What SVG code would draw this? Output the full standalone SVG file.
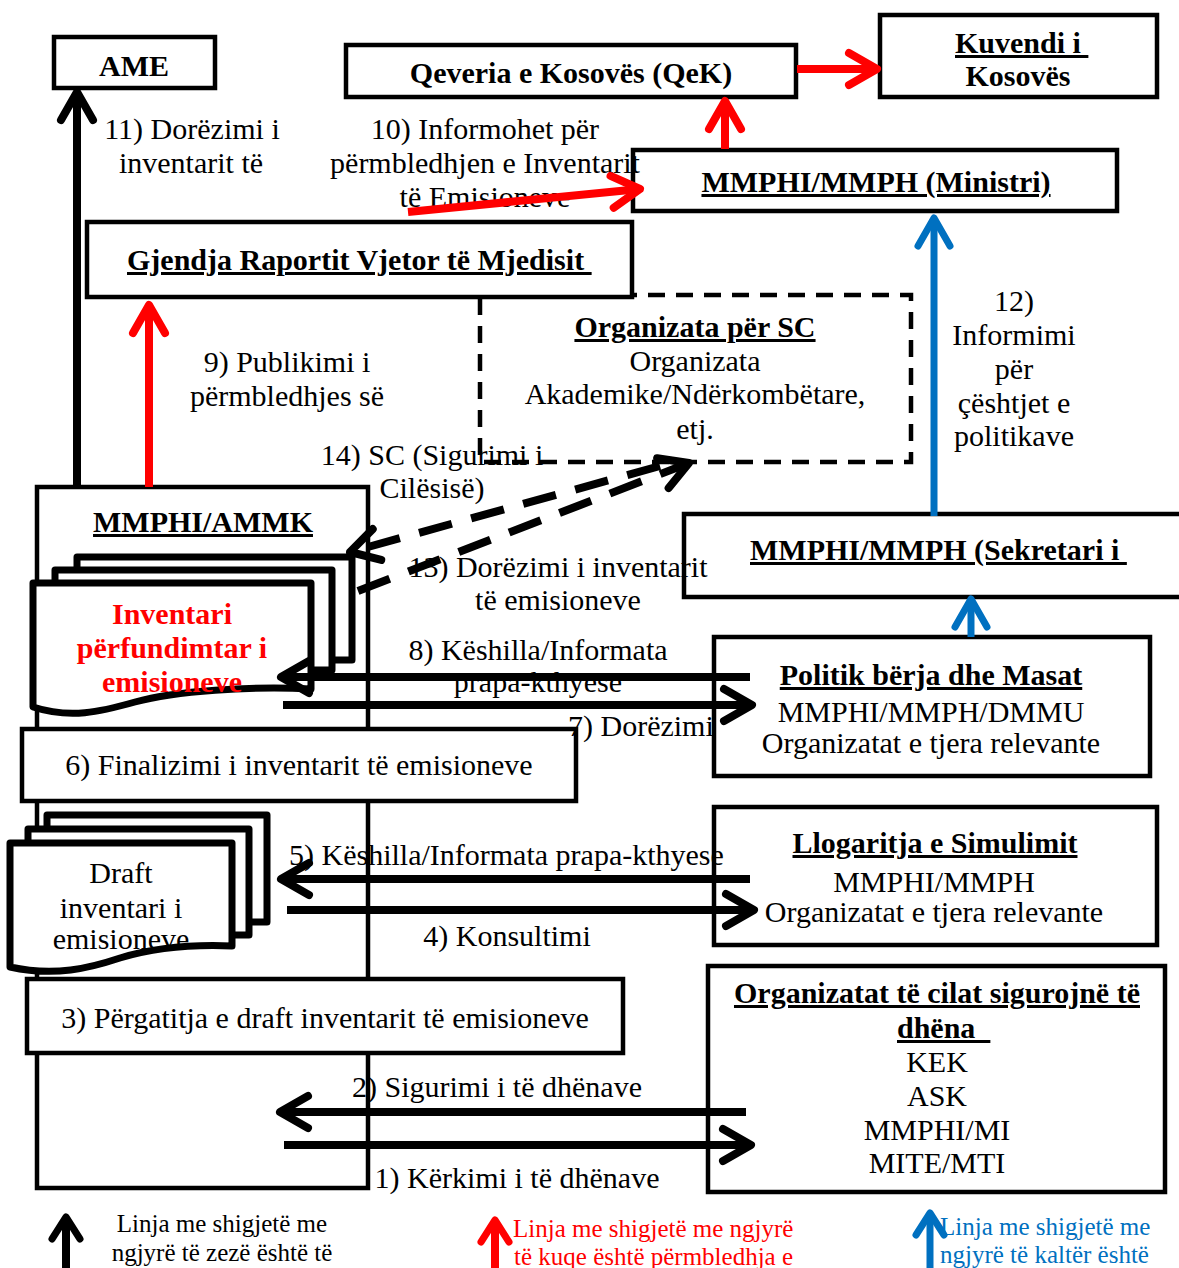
<svg xmlns="http://www.w3.org/2000/svg" width="1179" height="1268" viewBox="0 0 1179 1268">
  <defs>
    <style>
      .box { fill: #fff; stroke: #000; stroke-width: 4.5; }
      .sc { fill: none; stroke: #000; stroke-width: 4.5; stroke-dasharray: 17 11; }
      .doc { fill: #fff; stroke: #000; stroke-width: 7; stroke-linejoin: round; }
      .t { font-family: "Liberation Serif", "Times New Roman", serif; font-size: 30px; fill: #000; }
      .b { font-weight: bold; }
      .u { text-decoration: underline; }
      .c { text-anchor: middle; }
      .inv { fill: #ff0000; }
      .lg { font-size: 25px; }
      .lgr { fill: #ff0000; }
      .lgb { fill: #0070c0; }
      .k { fill: none; stroke: #000; stroke-width: 8; }
      .r { fill: none; stroke: #ff0000; stroke-width: 8; }
      .bl { fill: none; stroke: #0070c0; stroke-width: 7; }
      .dl { stroke-dasharray: 34 20; }
    </style>
    <marker id="hk" markerUnits="userSpaceOnUse" markerWidth="60" markerHeight="60" viewBox="-40 -30 60 60" refX="0" refY="0" orient="auto" overflow="visible">
      <path d="M-28,-16 L0,0 L-28,16" fill="none" stroke="#000" stroke-width="8" stroke-linecap="round" stroke-linejoin="round"/>
    </marker>
    <marker id="hr" markerUnits="userSpaceOnUse" markerWidth="60" markerHeight="60" viewBox="-40 -30 60 60" refX="0" refY="0" orient="auto" overflow="visible">
      <path d="M-28,-16 L0,0 L-28,16" fill="none" stroke="#ff0000" stroke-width="8" stroke-linecap="round" stroke-linejoin="round"/>
    </marker>
    <marker id="hb" markerUnits="userSpaceOnUse" markerWidth="60" markerHeight="60" viewBox="-40 -30 60 60" refX="0" refY="0" orient="auto" overflow="visible">
      <path d="M-28,-16 L0,0 L-28,16" fill="none" stroke="#0070c0" stroke-width="7" stroke-linecap="round" stroke-linejoin="round"/>
    </marker>
    <marker id="hks" markerUnits="userSpaceOnUse" markerWidth="40" markerHeight="40" viewBox="-30 -20 40 40" refX="0" refY="0" orient="auto" overflow="visible">
      <path d="M-22,-14 L0,0 L-22,14" fill="none" stroke="#000" stroke-width="7" stroke-linecap="round" stroke-linejoin="round"/>
    </marker>
    <marker id="hrs" markerUnits="userSpaceOnUse" markerWidth="40" markerHeight="40" viewBox="-30 -20 40 40" refX="0" refY="0" orient="auto" overflow="visible">
      <path d="M-22,-14 L0,0 L-22,14" fill="none" stroke="#ff0000" stroke-width="7" stroke-linecap="round" stroke-linejoin="round"/>
    </marker>
    <marker id="hbs" markerUnits="userSpaceOnUse" markerWidth="40" markerHeight="40" viewBox="-30 -20 40 40" refX="0" refY="0" orient="auto" overflow="visible">
      <path d="M-22,-14 L0,0 L-22,14" fill="none" stroke="#0070c0" stroke-width="7" stroke-linecap="round" stroke-linejoin="round"/>
    </marker>
    <clipPath id="kuvClip">
      <rect x="880" y="14" width="278" height="74"/>
    </clipPath>
  </defs>

  <rect width="1179" height="1268" fill="#fff"/>

  <!-- quality-control organisations (dashed) -->
  <g id="org-sc">
    <rect class="sc" x="480" y="295" width="431" height="167"/>
    <text class="t b u c" x="695" y="337">Organizata për SC</text>
    <text class="t c" x="695" y="371">Organizata</text>
    <text class="t c" x="695" y="404">Akademike/Ndërkombëtare,</text>
    <text class="t c" x="695" y="439">etj.</text>
  </g>

  <g id="ame">
    <rect class="box" x="54" y="37" width="161" height="51"/>
    <text class="t b c" x="134" y="76">AME</text>
  </g>

  <g id="qek">
    <rect class="box" x="346" y="45" width="450" height="52"/>
    <text class="t b c" x="571" y="83">Qeveria e Kosovës (QeK)</text>
  </g>

  <g id="kuvendi">
    <rect class="box" x="880" y="15" width="277" height="82"/>
    <text class="t b u" x="955" y="53" xml:space="preserve">Kuvendi i </text>
    <text class="t b c" x="1018" y="86" clip-path="url(#kuvClip)">Kosovës</text>
  </g>

  <g id="ministri">
    <rect class="box" x="633" y="150" width="484" height="61"/>
    <text class="t b u c" x="876" y="192">MMPHI/MMPH (Ministri)</text>
  </g>

  <g id="gjendja">
    <rect class="box" x="87" y="222" width="545" height="75"/>
    <text class="t b u" x="127" y="270" xml:space="preserve">Gjendja Raportit Vjetor të Mjedisit </text>
  </g>

  <g id="sekretari">
    <rect class="box" x="684" y="514" width="520" height="83"/>
    <text class="t b u" x="750" y="560" xml:space="preserve">MMPHI/MMPH (Sekretari i </text>
  </g>

  <g id="politika">
    <rect class="box" x="714" y="637" width="436" height="139"/>
    <text class="t b u c" x="931" y="685">Politik bërja dhe Masat</text>
    <text class="t c" x="931" y="722">MMPHI/MMPH/DMMU</text>
    <text class="t c" x="931" y="753">Organizatat e tjera relevante</text>
  </g>

  <g id="simulimi">
    <rect class="box" x="714" y="807" width="443" height="138"/>
    <text class="t b u c" x="935" y="853">Llogaritja e Simulimit</text>
    <text class="t c" x="934" y="892">MMPHI/MMPH</text>
    <text class="t c" x="934" y="922">Organizatat e tjera relevante</text>
  </g>

  <g id="ofruesit">
    <rect class="box" x="708" y="966" width="457" height="226"/>
    <text class="t b u c" x="937" y="1003">Organizatat të cilat sigurojnë të</text>
    <text class="t b u" x="897" y="1038" xml:space="preserve">dhëna  </text>
    <text class="t c" x="937" y="1072">KEK</text>
    <text class="t c" x="937" y="1106">ASK</text>
    <text class="t c" x="937" y="1140">MMPHI/MI</text>
    <text class="t c" x="937" y="1173">MITE/MTI</text>
  </g>

  <g id="ammk">
    <rect class="box" x="37" y="487" width="331" height="701"/>
    <text class="t b u c" x="203" y="532">MMPHI/AMMK</text>
  </g>

  <!-- final inventory: stack of pages -->
  <g id="inventari-final">
    <rect class="doc" x="77" y="557" width="275" height="103"/>
    <rect class="doc" x="55" y="570" width="277" height="100"/>
    <path class="doc" d="M33,583 H311 V689 C250,686 175,691 135,702 C100,712 70,719 33,707 Z"/>
    <text class="t b c inv" x="172" y="624">Inventari</text>
    <text class="t b c inv" x="172" y="658">përfundimtar i</text>
    <text class="t b c inv" x="172" y="692">emisioneve</text>
  </g>

  <g id="hapi-6">
    <rect class="box" x="22" y="729" width="554" height="72"/>
    <text class="t c" x="299" y="775">6) Finalizimi i inventarit të emisioneve</text>
  </g>

  <!-- draft inventory: stack of pages -->
  <g id="inventari-draft">
    <rect class="doc" x="47" y="815" width="220" height="107"/>
    <rect class="doc" x="28" y="829" width="221" height="106"/>
    <path class="doc" d="M10,843 H232 V946 C185,944 150,949 120,958 C90,968 55,977 10,967 Z"/>
    <text class="t c" x="121" y="883">Draft</text>
    <text class="t c" x="121" y="918">inventari i</text>
    <text class="t c" x="121" y="949">emisioneve</text>
  </g>

  <g id="hapi-3">
    <rect class="box" x="27" y="979" width="596" height="74"/>
    <text class="t c" x="325" y="1028">3) Përgatitja e draft inventarit të emisioneve</text>
  </g>

  <!-- connector labels -->
  <g id="labels">
    <text class="t c" x="192" y="139">11) Dorëzimi i</text>
    <text class="t c" x="191" y="173">inventarit të</text>
    <text class="t c" x="485" y="139">10) Informohet për</text>
    <text class="t c" x="485" y="173">përmbledhjen e Inventarit</text>
    <text class="t c" x="485" y="207">të Emisioneve</text>
    <text class="t c" x="287" y="372">9) Publikimi i</text>
    <text class="t c" x="287" y="406">përmbledhjes së</text>
    <text class="t c" x="1014" y="311">12)</text>
    <text class="t c" x="1014" y="345">Informimi</text>
    <text class="t c" x="1014" y="379">për</text>
    <text class="t c" x="1014" y="413">çështjet e</text>
    <text class="t c" x="1014" y="446">politikave</text>
    <text class="t c" x="432" y="465">14) SC (Sigurimi i</text>
    <text class="t c" x="432" y="498">Cilësisë)</text>
    <text class="t c" x="558" y="577">13) Dorëzimi i inventarit</text>
    <text class="t c" x="558" y="610">të emisioneve</text>
    <text class="t c" x="538" y="660">8) Këshilla/Informata</text>
    <text class="t c" x="538" y="692">prapa-kthyese</text>
    <text class="t" x="568" y="736">7) Dorëzimi</text>
    <text class="t" x="289" y="865">5) Këshilla/Informata prapa-kthyese</text>
    <text class="t c" x="507" y="946">4) Konsultimi</text>
    <text class="t c" x="497" y="1097">2) Sigurimi i të dhënave</text>
    <text class="t c" x="517" y="1188">1) Kërkimi i të dhënave</text>
  </g>

  <g id="connectors">
    <!-- black: data flow -->
    <line class="k" x1="77" y1="487" x2="77" y2="92" marker-end="url(#hk)"/>
    <line class="k" x1="750" y1="677" x2="281" y2="677" marker-end="url(#hk)"/>
    <line class="k" x1="283" y1="705" x2="752" y2="705" marker-end="url(#hk)"/>
    <line class="k" x1="750" y1="879" x2="281" y2="879" marker-end="url(#hk)"/>
    <line class="k" x1="287" y1="910" x2="754" y2="910" marker-end="url(#hk)"/>
    <line class="k" x1="746" y1="1112" x2="280" y2="1112" marker-end="url(#hk)"/>
    <line class="k" x1="284" y1="1145" x2="751" y2="1145" marker-end="url(#hk)"/>
    <line class="k dl" x1="660" y1="466" x2="350" y2="552" marker-end="url(#hk)"/>
    <line class="k dl" x1="358" y1="591" x2="689" y2="463" marker-end="url(#hk)"/>
    <!-- red: summary flow -->
    <line class="r" x1="149" y1="487" x2="149" y2="305" marker-end="url(#hr)"/>
    <line class="r" x1="408" y1="212" x2="640" y2="189" marker-end="url(#hr)"/>
    <line class="r" x1="725" y1="149" x2="725" y2="101" marker-end="url(#hr)"/>
    <line class="r" x1="797" y1="69" x2="877" y2="69" marker-end="url(#hr)"/>
    <!-- blue: policy flow -->
    <line class="bl" x1="934" y1="516" x2="934" y2="218" marker-end="url(#hb)"/>
    <line class="bl" x1="971" y1="637" x2="971" y2="599" marker-end="url(#hb)"/>
  </g>

  <!-- legend -->
  <g id="legend">
    <line class="k" x1="66" y1="1268" x2="66" y2="1217" stroke-width="7" marker-end="url(#hks)"/>
    <text class="t lg c" x="222" y="1232">Linja me shigjetë me</text>
    <text class="t lg c" x="222" y="1261">ngjyrë të zezë është të</text>
    <line class="r" x1="495" y1="1268" x2="495" y2="1220" stroke-width="7" marker-end="url(#hrs)"/>
    <text class="t lg lgr" x="513" y="1237">Linja me shigjetë me ngjyrë</text>
    <text class="t lg lgr" x="514" y="1265">të kuqe është përmbledhja e</text>
    <line class="bl" x1="930" y1="1268" x2="930" y2="1213" marker-end="url(#hbs)"/>
    <text class="t lg lgb" x="940" y="1235">Linja me shigjetë me</text>
    <text class="t lg lgb" x="940" y="1263">ngjyrë të kaltër është</text>
  </g>
</svg>
